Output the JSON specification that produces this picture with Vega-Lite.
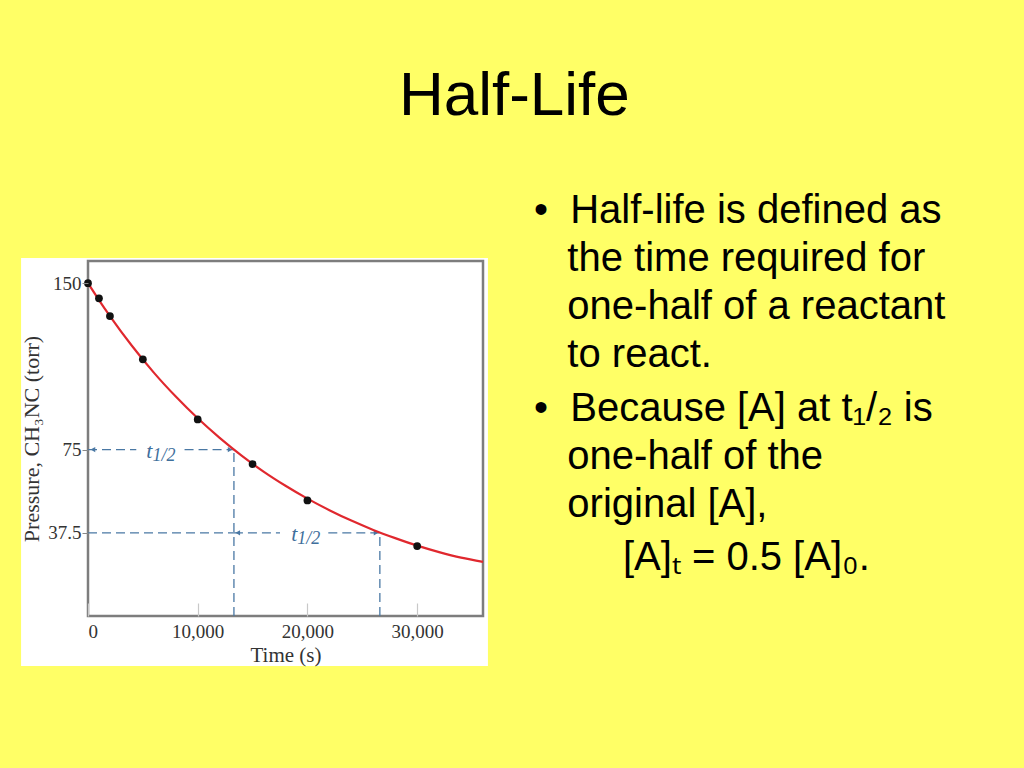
{
  "$schema": "https://vega.github.io/schema/vega-lite/v6.json",
  "background": "#FFFF66",
  "padding": {"left": 20, "top": 64, "right": 17, "bottom": 103},
  "bounds": "flush",
  "spacing": 51,
  "title": {"text": "Half-Life", "font": "Liberation Sans", "fontSize": 62, "fontWeight": "normal", "color": "#000000", "anchor": "middle", "offset": 63},
  "config": {"view": {"stroke": null}},
  "datasets": {
    "points": [
      {"t": 0, "p": 150}, {"t": 1000, "p": 143.2}, {"t": 2000, "p": 135.2}, {"t": 5000, "p": 115.7},
      {"t": 10000, "p": 88.6}, {"t": 15000, "p": 68.5}, {"t": 20000, "p": 52.1}, {"t": 30000, "p": 31.5}
    ],
    "curve": [
      {"t": 0, "p": 150}, {"t": 1000, "p": 142.4}, {"t": 2000, "p": 135.2}, {"t": 4000, "p": 121.8},
      {"t": 6000, "p": 109.7}, {"t": 8000, "p": 98.9}, {"t": 10000, "p": 89.1}, {"t": 12000, "p": 80.3},
      {"t": 14000, "p": 72.3}, {"t": 16000, "p": 65.1}, {"t": 18000, "p": 58.7}, {"t": 20000, "p": 52.9},
      {"t": 22000, "p": 47.7}, {"t": 24000, "p": 43.0}, {"t": 26000, "p": 38.8}, {"t": 28000, "p": 35.1},
      {"t": 30000, "p": 31.7}, {"t": 32000, "p": 28.8}, {"t": 34000, "p": 26.3}, {"t": 36000, "p": 24.4}
    ],
    "guides": [
      {"t": 0, "t2": 4400, "p": 75, "p2": 75},
      {"t": 8800, "t2": 13300, "p": 75, "p2": 75},
      {"t": 0, "t2": 13300, "p": 37.5, "p2": 37.5},
      {"t": 13300, "t2": 17500, "p": 37.5, "p2": 37.5},
      {"t": 21900, "t2": 26600, "p": 37.5, "p2": 37.5},
      {"t": 13300, "t2": 13300, "p": 0, "p2": 75},
      {"t": 26600, "t2": 26600, "p": 0, "p2": 37.5}
    ],
    "arrows": [
      {"t": 450, "p": 75, "dir": "left"},
      {"t": 12950, "p": 75, "dir": "right"},
      {"t": 13650, "p": 37.5, "dir": "left"},
      {"t": 26250, "p": 37.5, "dir": "right"}
    ],
    "labels": [
      {"t": 6600, "p": 75},
      {"t": 19800, "p": 37.5}
    ],
    "bullets": [
      {"line": 1, "text": ["•\u00a0\u00a0Half-life is defined as", "\u200b\u00a0\u00a0\u00a0the time required for", "\u200b\u00a0\u00a0\u00a0one-half of a reactant", "\u200b\u00a0\u00a0\u00a0to react."]},
      {"line": 5, "text": ["•\u00a0\u00a0Because [A] at t₁/₂ is", "\u200b\u00a0\u00a0\u00a0one-half of the", "\u200b\u00a0\u00a0\u00a0original [A],"]},
      {"line": 8, "text": "\u200b\u00a0\u00a0\u00a0\u00a0\u00a0\u00a0\u00a0\u00a0[A]ₜ = 0.5 [A]₀."}
    ]
  },
  "hconcat": [
    {
      "width": 395,
      "height": 355,
      "layer": [
        {
          "data": {"values": [{}]},
          "mark": {"type": "rect", "fill": "#ffffff"},
          "encoding": {
            "x": {"datum": -6100, "type": "quantitative", "scale": {"domain": [0, 36000], "nice": false, "zero": false}},
            "x2": {"datum": 36450},
            "y": {"datum": 161.4, "type": "quantitative", "scale": {"domain": [0, 160], "nice": false}},
            "y2": {"datum": -22.5}
          }
        },
        {
          "data": {"values": [{}]},
          "mark": {"type": "rect", "filled": false, "stroke": "#7d7d7d", "strokeWidth": 2.5},
          "encoding": {
            "x": {"datum": 0, "type": "quantitative"}, "x2": {"datum": 36000},
            "y": {"datum": 0, "type": "quantitative"}, "y2": {"datum": 160}
          }
        },
        {
          "data": {"name": "guides"},
          "mark": {"type": "rule", "color": "#4a78a4", "strokeWidth": 1.3, "strokeDash": [9, 5]},
          "encoding": {
            "x": {"field": "t", "type": "quantitative"}, "x2": {"field": "t2"},
            "y": {"field": "p", "type": "quantitative"}, "y2": {"field": "p2"}
          }
        },
        {
          "data": {"name": "arrows"},
          "mark": {"type": "point", "filled": true, "color": "#4a78a4", "size": 28, "opacity": 1},
          "encoding": {
            "x": {"field": "t", "type": "quantitative"},
            "y": {"field": "p", "type": "quantitative"},
            "shape": {"field": "dir", "type": "nominal", "scale": {"domain": ["left", "right"], "range": ["triangle-left", "triangle-right"]}, "legend": null}
          }
        },
        {
          "data": {"name": "labels"},
          "mark": {"type": "text", "text": "t", "font": "Liberation Serif", "fontSize": 22, "fontStyle": "italic", "color": "#3f6f9c", "align": "right", "baseline": "alphabetic", "dx": -8, "dy": 8},
          "encoding": {
            "x": {"field": "t", "type": "quantitative"},
            "y": {"field": "p", "type": "quantitative"}
          }
        },
        {
          "data": {"name": "labels"},
          "mark": {"type": "text", "text": "1/2", "font": "Liberation Serif", "fontSize": 18, "fontStyle": "italic", "color": "#3f6f9c", "align": "left", "baseline": "alphabetic", "dx": -8, "dy": 11},
          "encoding": {
            "x": {"field": "t", "type": "quantitative"},
            "y": {"field": "p", "type": "quantitative"}
          }
        },
        {
          "data": {"name": "curve"},
          "mark": {"type": "line", "color": "#e0282e", "strokeWidth": 2.2, "interpolate": "monotone"},
          "encoding": {
            "x": {"field": "t", "type": "quantitative"},
            "y": {"field": "p", "type": "quantitative"}
          }
        },
        {
          "data": {"name": "points"},
          "mark": {"type": "point", "filled": true, "color": "#111111", "size": 60, "opacity": 1},
          "encoding": {
            "x": {
              "field": "t", "type": "quantitative",
              "axis": {
                "title": "Time (s)", "values": [0, 10000, 20000, 30000], "format": ",.0f", "zindex": 1,
                "domain": false, "grid": false, "tickColor": "#c8c8c8", "tickSize": -13, "tickWidth": 1.2,
                "labelFont": "Liberation Serif", "labelFontSize": 19, "labelColor": "#333333", "labelPadding": 19,
                "titleFont": "Liberation Serif", "titleFontSize": 21, "titleFontWeight": "normal", "titleColor": "#333333", "titlePadding": 3
              }
            },
            "y": {
              "field": "p", "type": "quantitative",
              "axis": {
                "title": "Pressure, CH₃NC (torr)", "values": [37.5, 75, 150], "format": ".1~f", "zindex": 1,
                "domain": false, "grid": false, "tickColor": "#888888", "tickSize": 6,
                "labelFont": "Liberation Serif", "labelFontSize": 19, "labelColor": "#333333", "labelPadding": 1,
                "titleFont": "Liberation Serif", "titleFontSize": 22, "titleFontWeight": "normal", "titleColor": "#333333", "titlePadding": 4
              }
            }
          }
        }
      ]
    },
    {
      "width": 474,
      "height": 355,
      "data": {"name": "bullets"},
      "mark": {"type": "text", "font": "Liberation Sans", "fontSize": 40, "lineHeight": 48, "align": "left", "baseline": "alphabetic", "color": "#000000"},
      "encoding": {
        "x": {"datum": 0, "type": "quantitative", "scale": {"domain": [0, 1]}, "axis": null},
        "y": {"field": "line", "type": "quantitative", "scale": {"domain": [1.772, 8.93], "reverse": true, "zero": false, "nice": false}, "axis": null},
        "text": {"field": "text"}
      }
    }
  ]
}
